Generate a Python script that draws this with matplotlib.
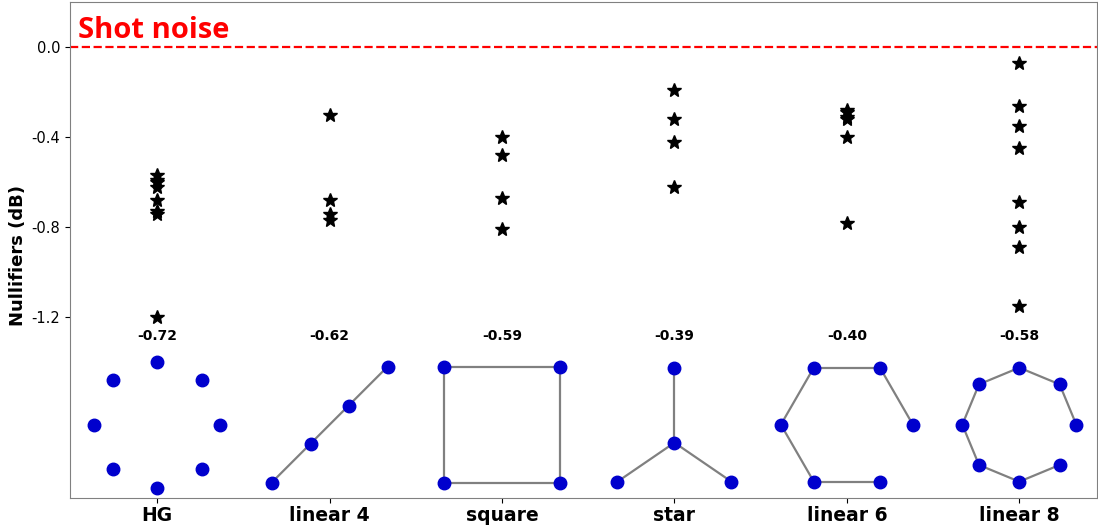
import numpy as np
import matplotlib
matplotlib.use("Agg")
import matplotlib.pyplot as plt

categories = ["HG", "linear 4", "square", "star", "linear 6", "linear 8"]
hg_vals = [-0.57, -0.59, -0.60, -0.62, -0.68, -0.73, -0.74, -1.20]
linear4_vals = [-0.30, -0.68, -0.74, -0.77]
square_vals = [-0.40, -0.48, -0.67, -0.81]
star_vals = [-0.19, -0.32, -0.42, -0.62]
linear6_vals = [-0.28, -0.29, -0.31, -0.32, -0.40, -0.78]
linear8_vals = [-0.07, -0.26, -0.35, -0.45, -0.69, -0.80, -0.89, -1.15]
all_vals = [hg_vals, linear4_vals, square_vals, star_vals, linear6_vals, linear8_vals]

yticks = [0.0, -0.4, -0.8, -1.2]


# sketch of each network, offsets in pixels (y up) around a centre point
def ring(n, r, start, step):
    ang = np.deg2rad(start + step * np.arange(n))
    return list(zip(r * np.cos(ang), r * np.sin(ang)))

def chain(n):
    return [(i, i + 1) for i in range(n - 1)]

layouts = [
    (ring(8, 63, 90, -45), []),
    ([(-58, -58), (-19, -19), (19, 19), (58, 58)], chain(4)),
    ([(-58, 58), (58, 58), (58, -58), (-58, -58)], chain(4) + [(3, 0)]),
    ([(0, -18), (0, 57), (-57, -57), (57, -57)], [(0, 1), (0, 2), (0, 3)]),
    (ring(6, 66, 0, 60), chain(6)),
    (ring(8, 57, 315, -45), chain(8)),
]

fig = plt.figure(figsize=(10.98, 5.31), dpi=100)
ax = fig.add_axes([0.0638, 0.0621, 0.9352, 0.9341])
ax.set_xlim(-0.505, 5.45)
ax.set_ylim(-2.004, 0.2)

# data units per pixel
px_x = (5.45 + 0.505) / (0.9352 * 1098)
px_y = (0.2 + 2.004) / (0.9341 * 531)
graph_y = -1.678

ax.axhline(0, color="red", linestyle="--", linewidth=1.6)

for i, vals in enumerate(all_vals):
    ax.plot([i] * len(vals), vals, linestyle="none", marker="*",
            color="black", markersize=10)
    ax.text(i, -1.285, "%.2f" % np.mean(vals), ha="center", va="center",
            fontsize=10, fontweight="bold")

    nodes, edges = layouts[i]
    xs = [i + u * px_x for u, v in nodes]
    ys = [graph_y + v * px_y for u, v in nodes]
    for a, b in edges:
        ax.plot([xs[a], xs[b]], [ys[a], ys[b]], color="gray", linewidth=1.6, zorder=2)
    ax.plot(xs, ys, linestyle="none", marker="o", color="mediumblue",
            markersize=9, zorder=3)

ax.set_xticks(range(len(categories)))
ax.set_xticklabels(categories, fontsize=13.5, fontweight="bold")
ax.set_yticks(yticks)
ax.set_yticklabels(["%.1f" % t for t in yticks], fontsize=10.5)
ax.tick_params(axis="x", pad=2)
ax.set_ylabel("Nullifiers (dB)", fontsize=13, fontweight="bold")
ax.yaxis.set_label_coords(-0.042, 0.488)

for sp in ax.spines.values():
    sp.set_color("#808080")

ax.text(0.0078, 0.927, "Shot noise", transform=ax.transAxes, color="red",
        fontsize=21, fontweight="bold", family="Open Sans", va="baseline")

fig.savefig("out.png", dpi=100)
